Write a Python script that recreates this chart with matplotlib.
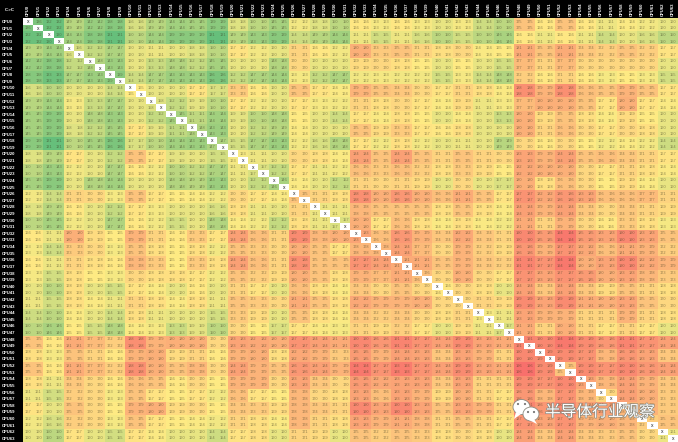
import numpy as np
import matplotlib
matplotlib.use("Agg")
import matplotlib.pyplot as plt
from matplotlib.colors import LinearSegmentedColormap, TwoSlopeNorm
from matplotlib.patches import Ellipse, Polygon
import matplotlib.patheffects as pe

W, H = 678, 442
cpu_labels = [f"CPU{i}" for i in range(64)]
corner_label = "C->C"
watermark = "半导体行业观察"
# latency per pair of logical CPUs (CPU2k, CPU2k+1)
pair_latency = [
 [136,132,149,142,138,156,149,144,145,139,158,150,145,162,158,150,166,163,166,163,160,163,154,150,175,166,175,166,161,164,162,160],
 [132,130,144,138,131,150,144,139,139,131,149,143,139,154,149,144,161,155,161,156,150,155,150,146,166,161,166,161,154,160,156,150],
 [149,144,156,152,147,160,161,160,158,150,167,162,160,171,166,162,180,173,175,171,168,170,164,165,181,175,181,174,172,175,172,167],
 [142,138,152,148,143,160,153,148,152,145,160,160,148,170,160,160,169,170,168,165,160,165,160,155,177,171,177,170,170,170,170,160],
 [138,133,147,143,139,154,147,143,143,136,152,147,144,163,152,147,162,163,162,162,155,163,154,148,172,166,171,166,163,165,163,155],
 [156,150,160,160,154,165,160,160,167,157,173,166,160,175,167,164,179,175,174,170,167,171,168,164,188,179,188,176,175,179,175,167],
 [149,144,163,153,147,160,158,152,159,150,167,162,160,167,163,162,171,168,170,167,164,169,161,163,177,180,180,175,167,180,167,164],
 [145,139,160,148,143,160,152,145,151,144,159,150,148,165,160,154,167,164,168,165,160,164,160,153,180,169,175,168,164,169,165,160],
 [145,139,158,152,145,167,159,151,148,143,160,152,149,164,160,160,175,169,173,167,166,168,160,160,180,171,176,170,167,170,168,160],
 [139,131,150,145,136,157,150,144,143,147,155,147,143,162,156,148,167,162,168,162,160,161,160,149,170,166,170,165,162,164,162,154],
 [158,149,167,160,152,175,167,159,160,155,163,161,160,170,168,164,184,175,184,175,171,175,171,170,183,179,184,175,176,174,171,167],
 [150,143,162,160,147,166,162,150,152,147,161,157,152,167,161,162,176,173,176,172,168,173,169,165,182,180,180,170,167,171,168,164],
 [145,139,160,148,144,160,160,148,149,143,160,152,146,164,160,152,171,170,171,169,160,170,160,157,180,168,176,170,165,169,164,160],
 [162,154,171,170,163,175,167,165,164,162,170,167,164,175,171,168,188,180,186,180,176,181,175,167,187,182,186,183,176,176,177,171],
 [158,149,166,160,152,167,163,160,160,156,168,161,160,171,161,161,178,175,175,175,168,175,168,164,184,179,184,174,170,174,171,169],
 [150,145,162,160,147,166,162,155,160,148,164,162,152,168,161,157,180,167,176,168,164,168,164,162,181,171,179,170,166,173,168,163],
 [166,161,180,169,165,179,171,166,173,167,184,176,171,189,178,180,183,176,186,179,174,182,174,171,190,185,194,185,183,190,183,175],
 [163,154,173,170,163,175,168,165,168,162,175,173,170,180,175,167,178,178,184,177,170,179,172,169,186,179,187,182,176,181,179,172],
 [166,161,171,168,166,178,173,165,173,168,184,176,171,188,175,175,187,184,181,181,175,179,174,172,191,187,194,180,183,190,182,179],
 [163,155,168,165,163,170,168,168,167,162,175,172,169,180,175,168,179,177,181,176,170,180,170,167,187,183,187,185,180,183,178,173],
 [160,150,168,160,155,167,164,160,166,160,171,167,160,176,168,164,174,170,175,170,166,170,168,160,184,174,184,174,169,175,171,168],
 [161,155,168,164,161,171,168,164,168,161,175,173,170,181,175,168,182,179,179,180,170,170,171,169,189,183,189,181,180,183,175,170],
 [154,150,164,160,154,168,161,160,160,155,173,169,160,175,168,164,174,172,174,170,168,171,163,161,183,179,179,171,171,179,171,168],
 [150,146,165,155,148,164,163,153,159,150,170,165,157,167,164,163,171,169,172,167,160,169,161,157,181,171,180,171,167,171,167,160],
 [175,166,181,177,172,188,179,180,180,170,183,182,180,187,184,181,190,186,191,187,184,189,183,181,191,190,194,189,186,191,187,184],
 [168,163,175,171,166,179,180,169,171,166,179,180,168,182,179,173,185,179,184,183,174,183,179,171,190,189,189,187,178,186,183,174],
 [175,166,181,177,172,188,180,175,178,170,184,179,175,186,184,179,194,187,193,187,184,189,183,181,196,189,175,189,187,190,186,184],
 [168,161,174,170,166,176,175,166,170,165,179,179,170,183,174,170,185,182,183,183,174,183,171,171,189,187,190,183,178,184,179,174],
 [161,155,172,170,163,175,167,165,167,162,176,167,165,178,170,168,183,176,183,179,169,180,171,167,186,178,187,178,170,184,180,173],
 [167,160,175,170,165,179,180,169,170,165,174,173,169,178,174,171,190,183,190,183,175,183,179,171,191,186,190,184,184,178,179,173],
 [162,156,172,170,163,175,167,165,164,162,171,168,164,178,171,168,183,179,181,178,171,175,171,167,187,183,187,179,180,178,172,175],
 [160,150,167,160,155,167,164,160,160,154,167,168,160,171,169,160,175,172,175,173,168,170,168,160,184,174,184,174,173,175,170,161],
]

plt.rcParams['font.family'] = ['Liberation Sans', 'DejaVu Sans']
latency = np.repeat(np.repeat(np.array(pair_latency, float), 2, axis=0), 2, axis=1)
n = len(cpu_labels)

fig = plt.figure(figsize=(W/100, H/100), dpi=100, facecolor='black')
left, right, top = 23.2, 678, 18.4
ax = fig.add_axes([left/W, 0, (right-left)/W, (H-top)/H])
cmap = LinearSegmentedColormap.from_list('gyr', ['#63BE7B', '#FFEB84', '#F8696B'])
norm = TwoSlopeNorm(vmin=130, vcenter=165, vmax=198)
shown = np.ma.array(latency, mask=np.eye(n, dtype=bool))
cmap.set_bad('white')
ax.imshow(shown, cmap=cmap, norm=norm, aspect='auto', interpolation='nearest',
          extent=(-0.5, n-0.5, n-0.5+0.05, -0.5))

for r in range(n):
    for c in range(n):
        if r == c:
            ax.text(c, r, 'x', ha='center', va='center', fontsize=3.6, color='#222222')
        else:
            ax.text(c, r, f"{int(latency[r, c])}", ha='center', va='center',
                    fontsize=2.8, color='#3c3a20', alpha=0.55)

ax.set_xticks(range(n))
ax.set_xticklabels(cpu_labels, rotation=90, fontsize=3.1, fontweight='bold', color='white', va='bottom', ha='center')
ax.xaxis.tick_top()
ax.set_yticks(range(n))
ax.set_yticklabels(cpu_labels, fontsize=3.1, fontweight='bold', color='white', ha='left')
ax.tick_params(axis='both', length=0)
ax.tick_params(axis='x', pad=1.5)
ax.tick_params(axis='y', pad=15.5)
for s in ax.spines.values():
    s.set_visible(False)

fig.text(10/W, 1-10/H, corner_label, color='white', fontsize=3.1, fontweight='bold', ha='center', va='center')

# watermark: WeChat style bubbles and account name
ov = fig.add_axes([0, 0, 1, 1], facecolor='none')
ov.set_xlim(0, W); ov.set_ylim(H, 0); ov.axis('off')
shadow = [pe.withStroke(linewidth=1.0, foreground='#8a8a80')]
for (cx, cy, w, h) in [(521.5, 407, 17, 15), (531, 414, 16, 14)]:
    ov.add_patch(Ellipse((cx, cy), w, h, fc='white', ec='#8a8a80', lw=0.6))
ov.add_patch(Polygon([(516, 412), (514, 419), (521, 414)], fc='white', ec='none'))
ov.add_patch(Polygon([(534, 419), (537, 424), (529, 420)], fc='white', ec='none'))
for (x, y, col) in [(518, 404, '#777'), (525, 404, '#777'), (528, 412, '#777'), (534, 412, '#777')]:
    ov.add_patch(Ellipse((x, y), 2.2, 2.2, fc=col, ec='none'))
ov.text(545, 412, watermark, color='white', fontsize=11.3, ha='left', va='center',
        family=['Noto Sans CJK SC', 'DejaVu Sans'], path_effects=shadow)

fig.savefig('out.png', dpi=100, facecolor='black')
